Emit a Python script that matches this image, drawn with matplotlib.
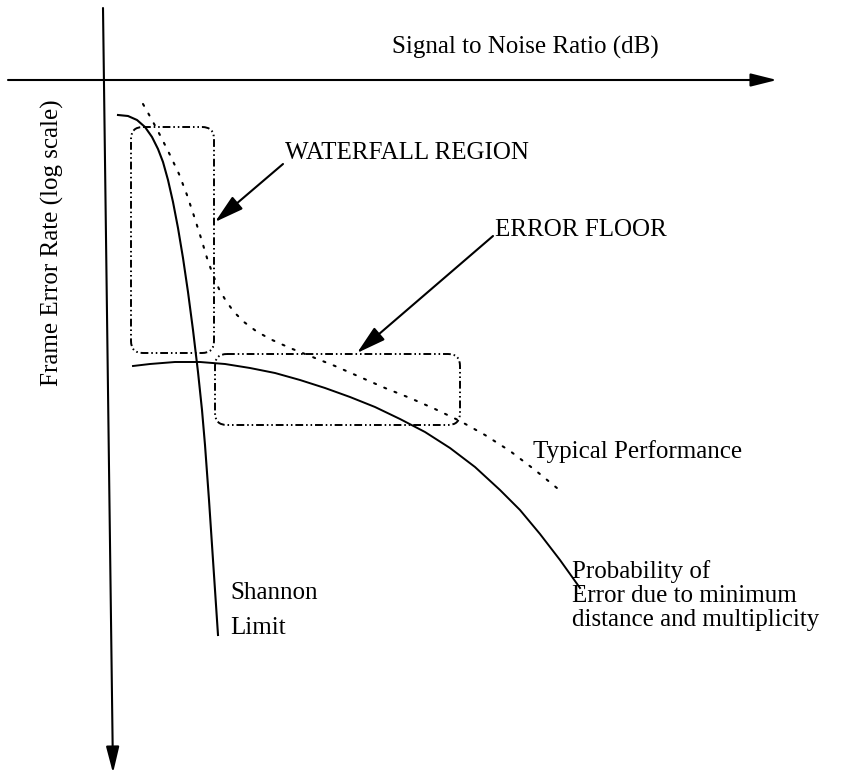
import matplotlib.pyplot as plt
from matplotlib.patches import FancyBboxPatch

plt.rcParams['font.family'] = ['Liberation Serif', 'DejaVu Serif']

# sketch units: x grows to the right (SNR), y grows downwards (lower error rate)
shannon_x = [118, 128, 137, 145, 152, 158, 163, 168, 173, 178, 183, 188, 193, 198, 202, 205, 209, 213, 218]
shannon_y = [115, 116, 120, 127, 137, 149, 162, 180, 202, 228, 258, 292, 330, 372, 410, 445, 500, 560, 635]

typical_x = [143, 152, 161, 170, 179, 187, 194, 201, 207, 213, 219, 226, 234, 244, 256, 270, 290,
             310, 335, 360, 385, 410, 435, 460, 485, 510, 535, 563]
typical_y = [104, 120, 137, 155, 174, 195, 216, 238, 258, 275, 289, 301, 312, 322, 331, 339, 348,
             356, 366, 377, 388, 398, 409, 421, 435, 451, 470, 493]

mindist_x = [133, 150, 175, 200, 225, 250, 275, 300, 325, 350, 375, 400, 425, 450, 475, 500, 520, 540, 560, 580]
mindist_y = [366, 364, 362, 362, 364, 368, 373, 380, 388, 397, 407, 419, 432, 448, 467, 490, 510, 534, 560, 588]

# highlighted regions: left, top, right, bottom
waterfall_box = [131, 127, 214, 353]
floor_box = [215, 354, 460, 425]

fig = plt.figure(figsize=(8.59, 7.75), dpi=100)
ax = fig.add_axes([0, 0, 1, 1])
ax.set_xlim(0, 859)
ax.set_ylim(775, 0)
ax.axis('off')

fs = 18

axis_arrow = dict(arrowstyle='-|>,head_length=0.8,head_width=0.2', lw=1.5,
                  color='black', shrinkA=0, shrinkB=0, mutation_scale=20)
ax.annotate('', xy=(777, 80), xytext=(8, 80), arrowprops=axis_arrow)
ax.annotate('', xy=(113, 773), xytext=(103, 8), arrowprops=axis_arrow)

ax.text(525, 47, 'Signal to Noise Ratio (dB)', fontsize=fs, ha='center', va='center')
ax.text(52, 243, 'Frame Error Rate (log scale)', fontsize=fs, rotation=90,
        ha='center', va='center')

ax.plot(shannon_x, shannon_y, color='black', lw=1.5)
ax.plot(mindist_x, mindist_y, color='black', lw=1.4)
ax.plot(typical_x, typical_y, color='black', lw=1.5, linestyle=(0, (1, 4.3)),
        dash_capstyle='round')

for b in [waterfall_box, floor_box]:
    ax.add_patch(FancyBboxPatch((b[0], b[1]), b[2] - b[0], b[3] - b[1],
                                boxstyle='round,pad=0,rounding_size=12',
                                fill=False, ec='black', lw=1.4,
                                linestyle=(0, (4, 1.5, 0.8, 1.5, 0.8, 1.5))))

pointer = dict(arrowstyle='-|>,head_length=0.9,head_width=0.25', lw=1.5,
               color='black', shrinkA=0, shrinkB=0, mutation_scale=20)
ax.annotate('', xy=(215, 222), xytext=(283, 164), arrowprops=pointer)
ax.annotate('', xy=(357, 353), xytext=(493, 236), arrowprops=pointer)

ax.text(285, 153, 'WATERFALL REGION', fontsize=fs, va='center')
ax.text(495, 230, 'ERROR FLOOR', fontsize=fs, va='center')
ax.text(533, 452, 'Typical Performance', fontsize=fs, va='center')

prob_lines = ['Probability of', 'Error due to minimum', 'distance and multiplicity']
for i, line in enumerate(prob_lines):
    ax.text(572, 572 + 24 * i, line, fontsize=fs, va='center')

ax.text(230, 593, 'Shannon', fontsize=fs, va='center')
ax.text(230, 628, 'Limit', fontsize=fs, va='center')

fig.savefig('out.png', dpi=100)
